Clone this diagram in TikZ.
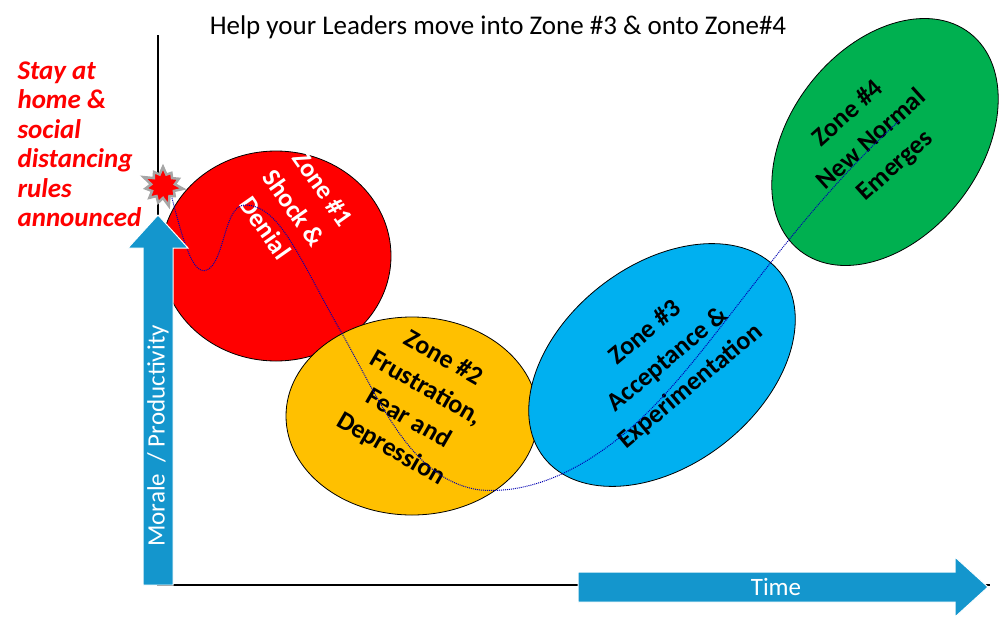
\documentclass[tikz,border=0pt]{standalone}
\usepackage{fontspec}
\setmainfont{Carlito}
\usetikzlibrary{shapes.geometric,shapes.symbols}
\definecolor{zblue}{RGB}{0,176,240}
\definecolor{zgreen}{RGB}{0,176,80}
\definecolor{zyellow}{RGB}{255,192,0}
\definecolor{arrowblue}{RGB}{20,150,205}
\begin{document}
\begin{tikzpicture}[x=1pt,y=-1pt,
  zone/.style={draw=black,line width=0.8pt},
  ztext/.style={font=\bfseries\fontsize{26}{35}\selectfont,align=center},
  bigarrow/.style={fill=arrowblue,draw=white,line width=1pt}]
\useasboundingbox (0,0) rectangle (1004,627);
\node[font=\fontsize{27}{32}\selectfont] (title) at (498,27) {Help your Leaders move into Zone \#3 \& onto Zone\#4};
\draw[line width=1.5pt] (158,35) -- (158,585) -- (990,585);
\fill[zone,fill=red] (276,256) ellipse [x radius=115,y radius=105];
\fill[zone,fill=zyellow] (412,416) ellipse [x radius=126,y radius=99];
\fill[zone,fill=zblue,rotate around={38:(662,365)}] (662,365) ellipse [x radius=150,y radius=100];
\fill[zone,fill=zgreen,rotate around={52:(885,142)}] (885,142) ellipse [x radius=138,y radius=95];
\node[ztext,text=white,rotate=-55] (z1) at (294,208) {Zone \#1\\Shock \&\\Denial};
\node[ztext,rotate=-30] (z2) at (417,404) {Zone \#2\\Frustration,\\Fear and\\Depression};
\node[ztext,rotate=40] (z3) at (668,360) {Zone \#3\\Acceptance \&\\Experimentation};
\node[ztext,rotate=42] (z4) at (872,140) {Zone \#4\\New Normal\\Emerges};
\draw[densely dotted,blue!70!black,line width=1pt] (170,190) .. controls (185,250) and (195,280) .. (210,268) .. controls (225,255) and (225,205) .. (245,205) .. controls (280,205) and (300,260) .. (340,330) .. controls (380,400) and (410,480) .. (480,490) .. controls (540,495) and (600,460) .. (650,410) .. controls (720,340) and (790,220) .. (900,120);
\node[starburst,starburst points=11,starburst point height=10pt,fill=red,draw=gray!70,line width=2.5pt,minimum size=44pt,inner sep=0pt] (burst) at (163,186) {};
\node[text=red,font=\bfseries\itshape\fontsize{27}{29.5}\selectfont,align=left,anchor=north west] (note) at (14,58) {Stay at\\home \&\\social\\distancing\\rules\\announced};
\filldraw[bigarrow] (143,585) -- (143,248) -- (128,248) -- (158,215) -- (188,248) -- (173,248) -- (173,585) -- cycle;
\node[rotate=90,text=white,font=\fontsize{25}{30}\selectfont] (ylab) at (158,436) {Morale \ / Productivity};
\filldraw[bigarrow] (578,572) -- (955,572) -- (955,557) -- (988,587) -- (955,617) -- (955,602) -- (578,602) -- cycle;
\node[text=white,font=\fontsize{25}{30}\selectfont] (xlab) at (776,587) {Time};
\end{tikzpicture}
\end{document}
